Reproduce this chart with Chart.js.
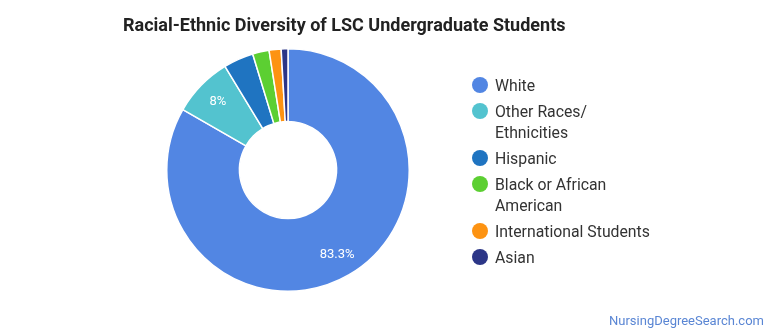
<!DOCTYPE html>
<html>
<head>
<meta charset="utf-8">
<script src="https://cdn.jsdelivr.net/npm/chart.js@4/dist/chart.umd.min.js"></script>
<style>
  html, body { margin: 0; padding: 0; background: #fff; }
  #wrap { position: relative; width: 770px; height: 335px; font-family: Roboto, "Noto Sans", sans-serif; }
  #chart { position: absolute; left: 0; top: 0; }
  #title { position: absolute; left: 123px; top: 14px; font-size: 18px; font-weight: bold; color: #222; white-space: nowrap; }
  #legend { position: absolute; left: 472px; top: 75px; list-style: none; margin: 0; padding: 0; }
  #legend li { position: relative; padding-left: 23px; font-size: 15.8px; line-height: 21px; color: #333; margin-bottom: 5px; }
  #legend li span.dot { position: absolute; left: 0; top: 2px; width: 16px; height: 16px; border-radius: 50%; }
  #credit { position: absolute; right: 6px; top: 313px; font-size: 13px; color: #5a86d4; }
</style>
</head>
<body>
<div id="wrap">
  <canvas id="chart" width="770" height="335"></canvas>
  <div id="title">Racial-Ethnic Diversity of LSC Undergraduate Students</div>
  <ul id="legend"></ul>
  <div id="credit">NursingDegreeSearch.com</div>
</div>
<script>
const groups = ['White', 'Other Races/ Ethnicities', 'Hispanic', 'Black or African American', 'International Students', 'Asian'];
// legend text, broken where the legend wraps
const legendLines = [['White'], ['Other Races/', 'Ethnicities'], ['Hispanic'], ['Black or African', 'American'], ['International Students'], ['Asian']];
const shares = [83.3, 8, 4.0, 2.2, 1.6, 0.9];
const sliceColors = ['#5286e3', '#53c3cf', '#1f74c1', '#5ccf32', '#fd9312', '#2c3687'];
const LABEL_MIN = 5;

// percentage text inside the bigger slices
const sliceLabels = {
  id: 'sliceLabels',
  afterDatasetsDraw(chart) {
    const ctx = chart.ctx;
    const meta = chart.getDatasetMeta(0);
    ctx.save();
    ctx.font = '13px Roboto, sans-serif';
    ctx.fillStyle = '#fff';
    ctx.textAlign = 'center';
    ctx.textBaseline = 'middle';
    meta.data.forEach((arc, i) => {
      if (shares[i] < LABEL_MIN) return;
      const p = arc.getProps(['x', 'y', 'startAngle', 'endAngle', 'innerRadius', 'outerRadius'], true);
      const mid = (p.startAngle + p.endAngle) / 2;
      const r = p.innerRadius + (p.outerRadius - p.innerRadius) * 0.68;
      ctx.fillText(shares[i] + '%', p.x + Math.cos(mid) * r, p.y + Math.sin(mid) * r);
    });
    ctx.restore();
  }
};

new Chart(document.getElementById('chart'), {
  type: 'doughnut',
  data: {
    labels: groups,
    datasets: [{
      data: shares,
      backgroundColor: sliceColors,
      borderColor: '#fff',
      borderWidth: 1.5
    }]
  },
  options: {
    responsive: false,
    animation: false,
    cutout: '40%',
    layout: { padding: { left: 166, right: 360, top: 48, bottom: 43 } },
    plugins: {
      legend: { display: false },
      title: { display: false },
      tooltip: { enabled: false }
    }
  },
  plugins: [sliceLabels]
});

const legendEl = document.getElementById('legend');
legendLines.forEach((lines, i) => {
  const li = document.createElement('li');
  li.innerHTML = '<span class="dot" style="background:' + sliceColors[i] + '"></span>' + lines.join('<br>');
  legendEl.appendChild(li);
});
</script>
</body>
</html>
